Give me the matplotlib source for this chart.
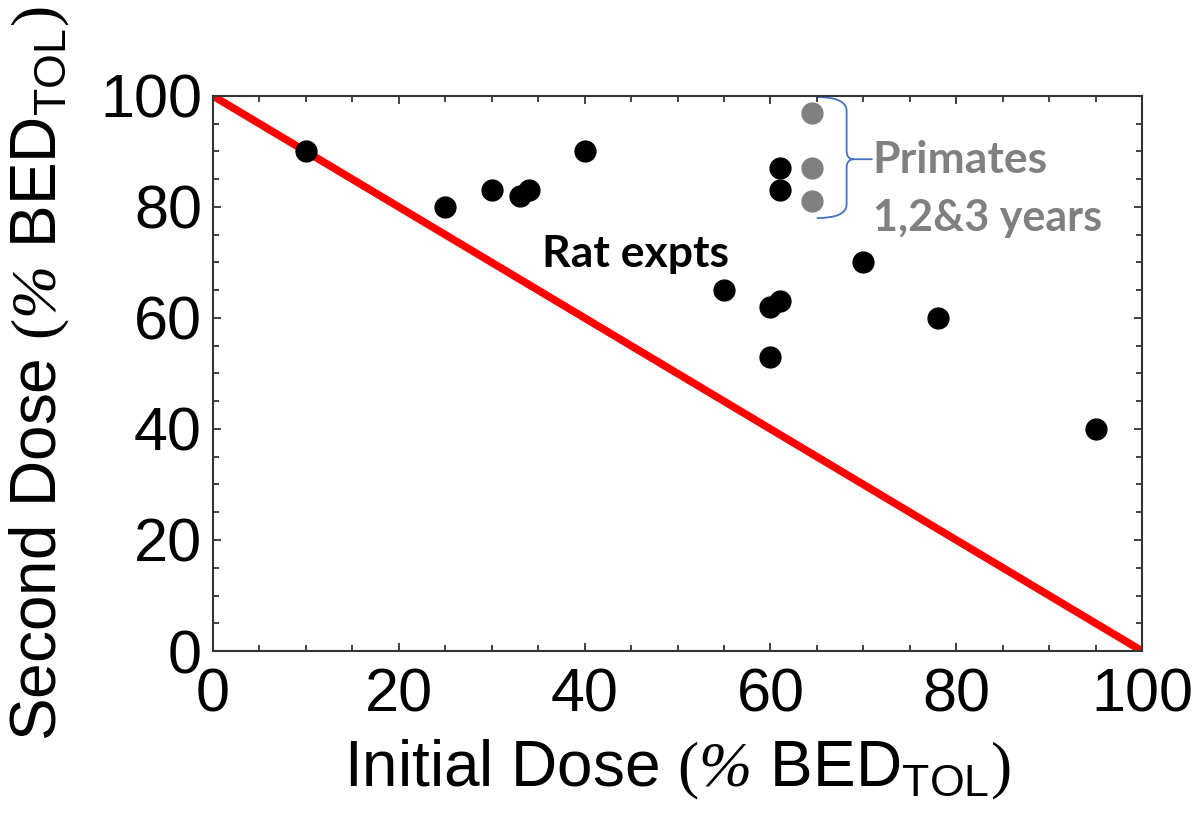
import numpy as np
import matplotlib
matplotlib.use("Agg")
import matplotlib.pyplot as plt
from matplotlib.path import Path
from matplotlib.patches import PathPatch

plt.rcParams['font.family'] = ['Liberation Sans', 'DejaVu Sans']
plt.rcParams['mathtext.fontset'] = 'custom'
plt.rcParams['mathtext.rm'] = 'Liberation Serif:italic'
plt.rcParams['mathtext.tt'] = 'Liberation Serif'
plt.rcParams['mathtext.sf'] = 'Liberation Sans'

# rat experiments (initial dose, second dose), % BED_TOL
rat_initial = [10, 25, 30, 33, 34, 40, 55, 60, 61, 60, 61, 61, 70, 78, 95]
rat_second = [90, 80, 83, 82, 83, 90, 65, 62, 63, 53, 87, 83, 70, 60, 40]

# primate experiments, 1, 2 & 3 years
primate_initial = [64.5, 64.5, 64.5]
primate_second = [97, 87, 81]

# tolerance line
line_x = [0, 100]
line_y = [100, 0]

fig = plt.figure(figsize=(11.98, 8.16), dpi=100)
ax = fig.add_axes([0.1778, 0.2022, 0.9533 - 0.1778, 0.8824 - 0.2022])

ax.plot(line_x, line_y, color='#ff0000', lw=5.5, solid_capstyle='butt', zorder=2)
ax.plot(rat_initial, rat_second, 'o', color='black', ms=15, zorder=3)
ax.plot(primate_initial, primate_second, 'o', color='#808080', ms=15, zorder=3)

ax.set_xlim(0, 100)
ax.set_ylim(0, 100)
ax.set_xticks(np.arange(0, 101, 20))
ax.set_yticks(np.arange(0, 101, 20))
ax.set_xticks(np.arange(0, 101, 5), minor=True)
ax.set_yticks(np.arange(0, 101, 5), minor=True)
ax.tick_params(which='both', direction='in', top=True, right=True,
               color='#333333', width=1.3)
ax.tick_params(which='major', length=6, labelsize=44)
ax.tick_params(which='minor', length=4)
ax.tick_params(axis='x', pad=12)
ax.tick_params(axis='y', pad=8)
for sp in ax.spines.values():
    sp.set_color('#333333')
    sp.set_linewidth(1.5)

unit = r" $\mathtt{(}\%$ BED$_{\mathsf{TOL}}$$\mathtt{)}$"
ax.set_xlabel("Initial Dose" + unit, fontsize=46)
ax.set_ylabel("Second Dose" + unit, fontsize=46)
ax.xaxis.set_label_coords(0.5, -0.214)
ax.yaxis.set_label_coords(-0.186, 0.5)
ax.xaxis.label.set_va('center')
ax.yaxis.label.set_va('center')

# brace next to the primate points
x0, xm, xt = 65.0, 68.2, 71.0
ytop, ymid, ybot = 99.8, 88.6, 78.0
verts = [(x0, ytop), (xm, ytop), (xm, ytop - 2.5),
         (xm, ymid + 1.5), (xm, ymid), (xm + 0.8, ymid),
         (xt, ymid),
         (xm + 0.8, ymid), (xm, ymid), (xm, ymid - 1.5),
         (xm, ybot + 2.5), (xm, ybot), (x0, ybot)]
codes = [Path.MOVETO, Path.CURVE3, Path.CURVE3,
         Path.LINETO, Path.CURVE3, Path.CURVE3,
         Path.LINETO,
         Path.MOVETO, Path.CURVE3, Path.CURVE3,
         Path.LINETO, Path.CURVE3, Path.CURVE3]
ax.add_patch(PathPatch(Path(verts, codes), fill=False, edgecolor='#4472c4', lw=1.3))

ax.text(71.0, 86.1, "Primates", fontsize=32, fontweight='bold', color='#808080',
        family=['Lato', 'DejaVu Sans'], va='baseline', ha='left')
ax.text(71.0, 75.6, "1,2&3 years", fontsize=31, fontweight='bold', color='#808080',
        family=['Lato', 'DejaVu Sans'], va='baseline', ha='left')
ax.text(35.4, 69.2, "Rat expts", fontsize=32, fontweight='bold', color='black',
        family=['Lato', 'DejaVu Sans'], va='baseline', ha='left')

fig.savefig("out.png", dpi=100)
